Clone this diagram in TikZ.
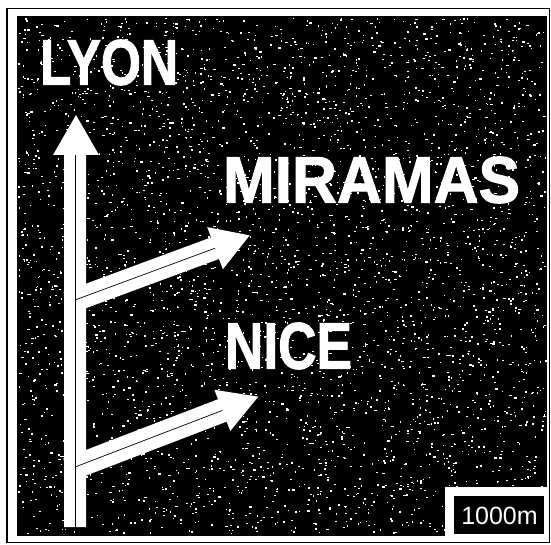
\documentclass[tikz,border=0pt]{standalone}
\usepackage{fontspec}
\usepackage{graphicx}
\setmainfont{Liberation Sans}
\newfontfamily\signfont[BoldFeatures={FakeBold=1.6}]{Liberation Sans}
\tikzset{
  panel/.style={fill=black},
  frameline/.style={draw=black, line width=1.2pt},
  signarrow/.style={fill=white, draw=none},
  seam/.style={draw=black, line width=0.7pt},
  signtext/.style={inner sep=0pt, text=white},
  speck/.style={fill=white}
}
\begin{document}
\begin{tikzpicture}[x=1pt,y=-1pt]
  \useasboundingbox (0,0) rectangle (551,545);
  % outer thin frame and black panel
  \draw[frameline] (7,8.5) rectangle (549.5,542.5);
  \fill[panel] (17,16.5) rectangle (547,535.5);
  % photocopy speckle texture
  \pgfmathsetseed{4217}
  \foreach \i in {1,...,3800} {
    \pgfmathsetmacro\px{18+527*rnd}
    \pgfmathsetmacro\py{18+515*rnd}
    \fill[speck] (\px,\py) rectangle ++(0.9+1.6*rnd,0.9+0.9*rnd);
  }
  % distance plate
  \fill[white] (445,487) rectangle (548,540.5);
  \fill[panel] (454,496) rectangle (543.5,533.5);
  % main vertical arrow (LYON)
  \fill[signarrow] (64,527) -- (64,155) -- (53,155) -- (76,115) -- (99,155) -- (86,155) -- (86,527) -- cycle;
  % upper branch (MIRAMAS)
  \begin{scope}[shift={(75,300)}, rotate=20.3]
    \fill[signarrow] (-8,-11.5) -- (149.3,-11.5) -- (149.3,-22.5) -- (186.3,0) -- (149.3,22.5) -- (149.3,11.5) -- (-8,11.5) -- cycle;
    \coordinate (s1a) at (0,0);
    \coordinate (s1b) at (149.3,0);
  \end{scope}
  % lower branch (NICE)
  \begin{scope}[shift={(75,467)}, rotate=21]
    \fill[signarrow] (-8,-12) -- (157.8,-12) -- (157.8,-22.1) -- (196.3,0) -- (157.8,22.1) -- (157.8,12) -- (-8,12) -- cycle;
    \coordinate (s2a) at (0,0);
    \coordinate (s2b) at (157.8,0);
  \end{scope}
  % seams of the printed arrows
  \coordinate (v1) at (75,155);
  \coordinate (v2) at (75,527);
  \draw[seam] (v1) -- (v2);
  \draw[seam] (s1a) -- (s1b);
  \draw[seam] (s2a) -- (s2b);
  % texts
  \node[signtext] (lyon) at (109,62.5) {\resizebox{138pt}{45pt}{\signfont\bfseries LYON}};
  \node[signtext] (miramas) at (371.5,180) {\resizebox{297pt}{46pt}{\signfont\bfseries MIRAMAS}};
  \node[signtext] (nice) at (288.5,346) {\resizebox{127pt}{46pt}{\signfont\bfseries NICE}};
  \node[signtext, font=\fontsize{25}{25}\selectfont] (dist) at (499.5,516) {1000m};
\end{tikzpicture}
\end{document}
